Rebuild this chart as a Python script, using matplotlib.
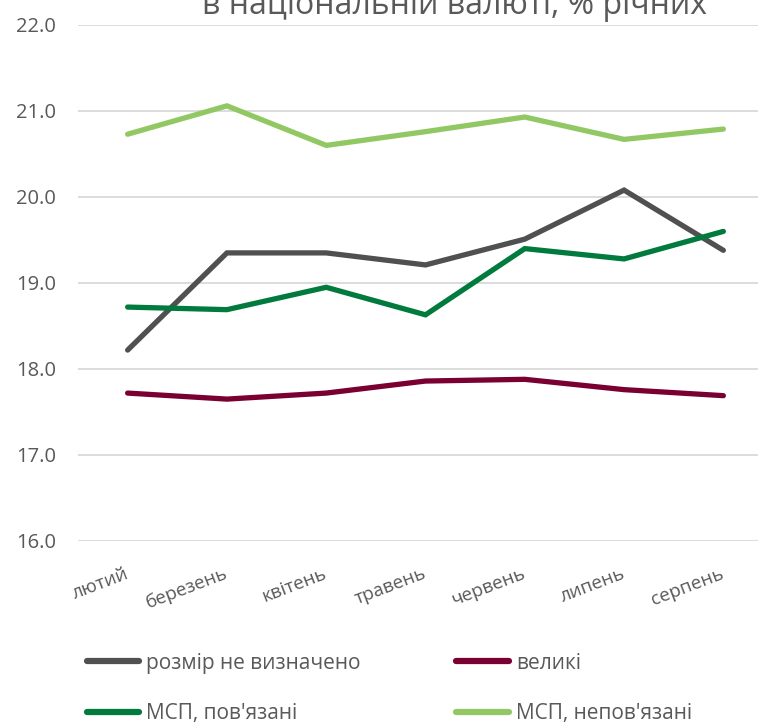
import matplotlib
matplotlib.use("Agg")
import matplotlib.pyplot as plt

plt.rcParams['font.family'] = ['Open Sans', 'DejaVu Sans']

months = ["лютий", "березень", "квітень", "травень", "червень", "липень", "серпень"]
series_names = ["розмір не визначено", "великі", "МСП, пов'язані", "МСП, непов'язані"]
undefined_size = [18.22, 19.35, 19.35, 19.21, 19.51, 20.08, 19.38]
large = [17.72, 17.65, 17.72, 17.86, 17.88, 17.76, 17.69]
sme_related = [18.72, 18.69, 18.95, 18.63, 19.40, 19.28, 19.60]
sme_unrelated = [20.73, 21.06, 20.60, 20.76, 20.93, 20.67, 20.79]
yticks = [16.0, 17.0, 18.0, 19.0, 20.0, 21.0, 22.0]
title_text = "в національній валюті, % річних"

colors = ["#505050", "#7B0032", "#007A3D", "#92C864"]
data = [undefined_size, large, sme_related, sme_unrelated]

fig = plt.figure(figsize=(7.58, 7.26), dpi=100)
ax = fig.add_axes([78/758, 185/726, 695/758, 516/726])

x = list(range(len(months)))
handles = []
for vals, c, name in zip(data, colors, series_names):
    h, = ax.plot(x, vals, color=c, lw=3.8, solid_capstyle='round',
                 solid_joinstyle='miter', label=name, zorder=3)
    handles.append(h)

ax.set_xlim(-0.5, len(months) - 0.5)
ax.set_ylim(16.0, 22.0)
ax.set_yticks(yticks)
ax.set_yticklabels([f"{v:.1f}" for v in yticks])
ax.yaxis.grid(True, color="#D9D9D9", lw=1.3, zorder=0)
ax.xaxis.grid(False)
for s in ax.spines.values():
    s.set_visible(False)
ax.tick_params(axis='both', length=0, labelcolor="#595959")
ax.tick_params(axis='y', pad=16, labelsize=14.5)
ax.set_xticks(x)
ax.set_xticklabels(months, rotation=21, ha='right', rotation_mode='anchor')
ax.tick_params(axis='x', pad=23, labelsize=13.5)
for lab in ax.get_xticklabels():
    lab.set_va('center')

fig.text(455/758, 1 - 14/726, title_text, ha='center', va='baseline',
         fontsize=23, color="#595959")

order = [0, 2, 1, 3]
leg = fig.legend(handles=[handles[i] for i in order],
                 labels=[series_names[i] for i in order], ncol=2,
                 loc='upper left', bbox_to_anchor=(68/758, 1 - 634/726),
                 frameon=False, fontsize=15, handlelength=2.5,
                 handletextpad=0.35, columnspacing=4.6, labelspacing=1.4,
                 labelcolor="#595959")
for lh in leg.get_lines():
    lh.set_linewidth(4.5)

fig.savefig("out.png", dpi=100)
